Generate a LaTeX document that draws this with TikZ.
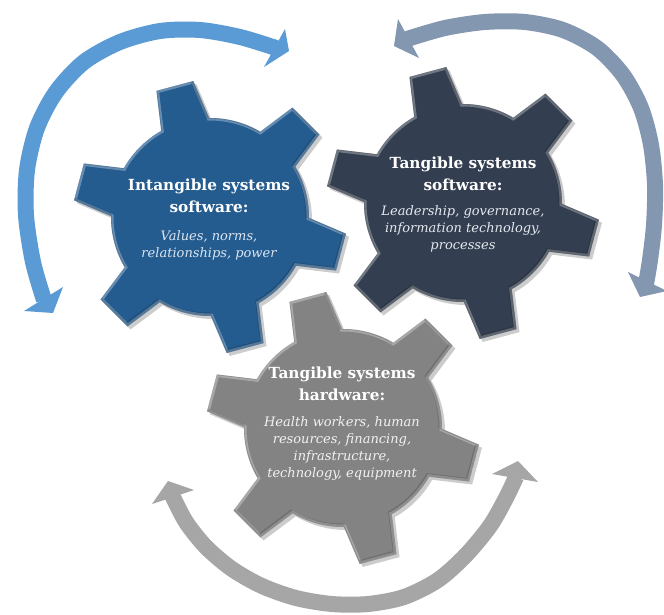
\documentclass[tikz,border=0pt]{standalone}
\usepackage{fontspec}
\setmainfont{DejaVu Serif}
\definecolor{arcblue}{HTML}{5B9BD5}
\definecolor{arcslate}{HTML}{8497B0}
\definecolor{arcgray}{HTML}{A6A6A6}
\definecolor{gearblue}{HTML}{245C90}
\definecolor{gearslate}{HTML}{333F50}
\definecolor{geargray}{HTML}{838383}
\definecolor{subblue}{HTML}{DCE6F2}
\definecolor{subslate}{HTML}{E4E8EE}
\definecolor{subgray}{HTML}{F2F2F2}
\newcommand\gearpath{(-29.5:99pt) \foreach \a in {-15,45,105,165,225,285}{ -- ({\a-14.5}:99pt) -- ({\a-8}:137pt) -- ({\a+8}:137pt) -- ({\a+14.5}:99pt) arc[start angle={\a+14.5}, end angle={\a+45.5}, radius=99pt]} -- cycle}
\tikzset{
  pics/gear/.style={code={
    \fill[black,opacity=0.2,shift={(3pt,-3pt)}] \gearpath;
    \fill[#1] \gearpath;
    \begin{scope}
      \clip \gearpath;
      \draw[white,opacity=0.3,line width=5pt] \gearpath;
      \draw[black,opacity=0.15,line width=4pt,shift={(-1.5pt,1.5pt)}] \gearpath;
    \end{scope}
  }},
  arcline/.style={line width=16pt, line cap=butt},
  ttl/.style={text=white, font=\fontsize{15.3}{21.5}\selectfont\bfseries, align=center, inner sep=0pt},
  sub/.style={font=\fontsize{13}{17}\selectfont\itshape, align=center, inner sep=0pt}
}
\begin{document}
\begin{tikzpicture}[x=1pt,y=1pt]
\useasboundingbox (0,0) rectangle (664,-614);
\fill[white] (0,0) rectangle (664,-614);
% arcs
\draw[arcline, arcblue] plot[smooth, tension=0.5] coordinates {(44,-300) (33,-262) (26,-215) (27,-170) (37,-128) (56,-92) (84,-62) (120,-42) (160,-31) (200,-30) (240,-37) (276,-48)};
\fill[arcblue] (24,-311) -- (53,-313) -- (63,-287) -- cycle;
\fill[arcblue] (285,-29) -- (289,-51) -- (264,-67) -- cycle;
\draw[arcline, arcslate] plot[smooth, tension=0.5] coordinates {(407,-39) (445,-28) (485,-22) (525,-22) (563,-30) (597,-48) (623,-75) (641,-108) (651,-145) (655,-185) (654,-225) (650,-260) (646,-284)};
\fill[arcslate] (398,-19) -- (394,-46) -- (419,-58) -- cycle;
\fill[arcslate] (628,-272) -- (640,-297) -- (667,-291) -- cycle;
\draw[arcline, arcgray] plot[smooth, tension=0.5] coordinates {(172,-495) (186,-522) (206,-547) (232,-569) (262,-586) (296,-598) (332,-604) (368,-604) (404,-597) (438,-580) (466,-555) (490,-526) (506,-498) (516,-477)};
\fill[arcgray] (152,-504) -- (168,-481) -- (194,-490) -- cycle;
\fill[arcgray] (492,-474) -- (518,-461) -- (538,-482) -- cycle;
% gears
\pic at (343,-428) {gear=geargray};
\pic at (210,-217) {gear=gearblue};
\pic at (463,-203) {gear=gearslate};
% texts
\node[ttl] (t1) at (209,-196) {Intangible systems\\software:};
\node[sub, text=subblue] (s1) at (209,-245.5) {Values, norms,\\relationships, power};
\node[ttl] (t2) at (463,-174) {Tangible systems\\software:};
\node[sub, text=subslate] (s2) at (463,-228.5) {Leadership, governance,\\information technology,\\processes};
\node[ttl] (t3) at (342,-384) {Tangible systems\\hardware:};
\node[sub, text=subgray] (s3) at (342,-448) {Health workers, human\\resources, financing,\\infrastructure,\\technology, equipment};
\end{tikzpicture}
\end{document}
